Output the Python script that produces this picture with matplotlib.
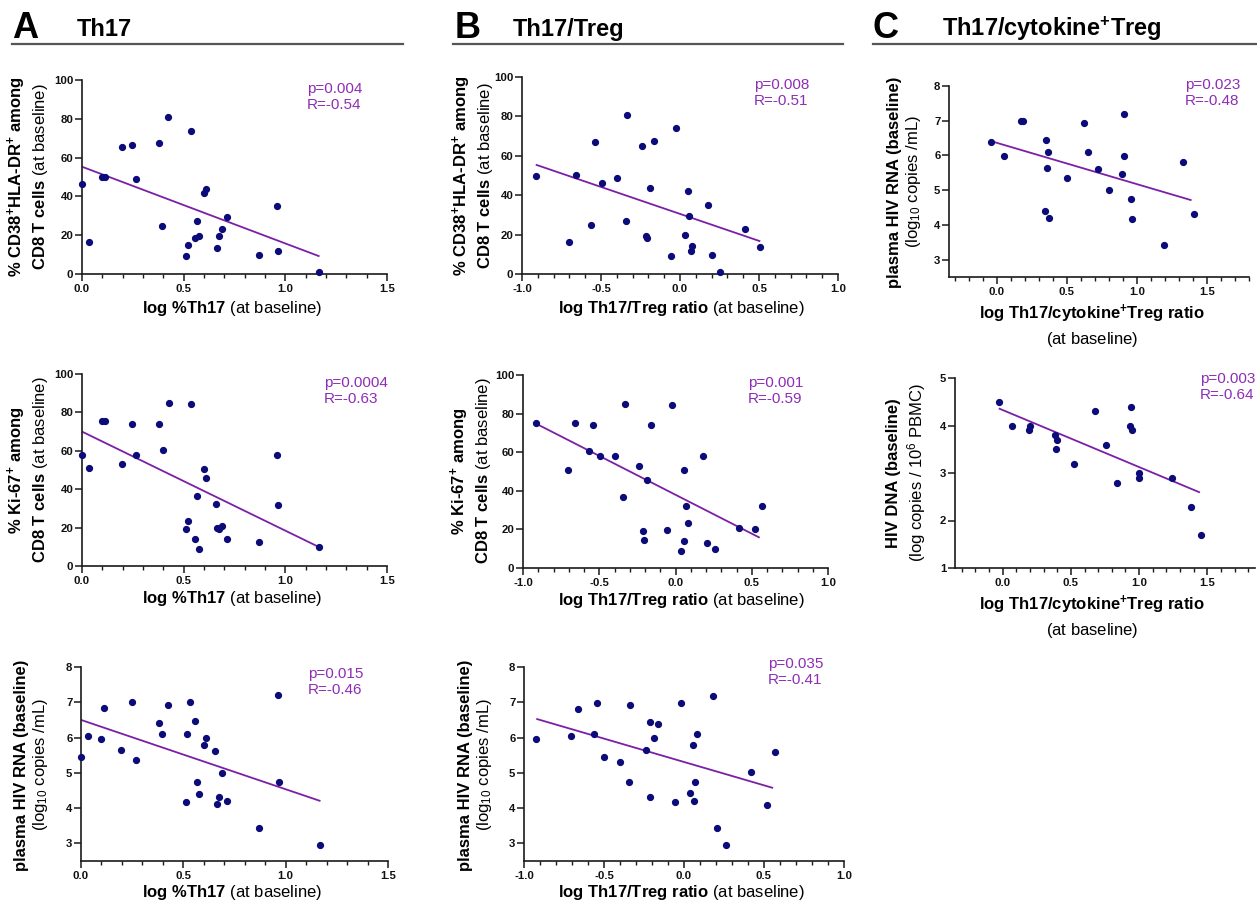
import matplotlib
matplotlib.use('Agg')
import matplotlib.pyplot as plt
from matplotlib.ticker import MultipleLocator, FormatStrFormatter
from matplotlib.lines import Line2D

plt.rcParams['font.family'] = ['Liberation Sans', 'DejaVu Sans']
plt.rcParams['mathtext.fontset'] = 'custom'
plt.rcParams['mathtext.rm'] = 'Liberation Sans'
plt.rcParams['mathtext.bf'] = 'Liberation Sans:bold'
plt.rcParams['mathtext.it'] = 'Liberation Sans:italic'
plt.rcParams['mathtext.default'] = 'rm'

# ---------------- data ----------------
a1_x = [0.0, 0.033, 0.10, 0.113, 0.197, 0.246, 0.266, 0.378, 0.394, 0.425, 0.511, 0.519, 0.536,
        0.554, 0.567, 0.577, 0.598, 0.611, 0.665, 0.674, 0.688, 0.713, 0.871, 0.961, 0.964, 1.168]
a1_y = [46.4, 16.4, 49.8, 50.2, 65.5, 66.7, 49.0, 67.6, 24.5, 80.9, 9.1, 14.7, 73.8,
        18.3, 27.4, 19.5, 41.9, 43.6, 13.6, 19.5, 23.3, 29.5, 9.7, 35.0, 12.1, 1.2]
a1_fit_x = [0.0, 1.168]
a1_fit_y = [55.3, 9.1]

a2_x = [0.0, 0.033, 0.10, 0.113, 0.197, 0.246, 0.266, 0.378, 0.396, 0.427, 0.511, 0.519, 0.536, 0.555,
        0.567, 0.577, 0.598, 0.611, 0.657, 0.665, 0.674, 0.688, 0.713, 0.871, 0.961, 0.964, 1.165]
a2_y = [58.0, 51.0, 75.3, 75.3, 53.1, 74.1, 58.0, 74.1, 60.4, 84.9, 19.1, 23.3, 84.2, 14.1,
        36.5, 8.7, 50.5, 45.7, 32.3, 20.0, 19.1, 20.7, 13.9, 12.5, 58.0, 31.9, 9.9]
a2_fit_x = [0.0, 1.165]
a2_fit_y = [70.0, 9.9]

a3_x = [0.0, 0.034, 0.10, 0.11, 0.197, 0.247, 0.267, 0.379, 0.395, 0.426, 0.512, 0.519, 0.535, 0.555,
        0.566, 0.576, 0.599, 0.611, 0.657, 0.665, 0.674, 0.690, 0.714, 0.872, 0.962, 0.967, 1.167]
a3_y = [5.46, 6.03, 5.97, 6.84, 5.65, 7.01, 5.35, 6.41, 6.10, 6.93, 4.18, 6.10, 7.01, 6.46,
        4.74, 4.41, 5.80, 6.00, 5.62, 4.12, 4.32, 4.99, 4.21, 3.43, 7.20, 4.75, 2.95]
a3_fit_x = [0.0, 1.17]
a3_fit_y = [6.50, 4.20]

b1_x = [-0.913, -0.705, -0.658, -0.563, -0.538, -0.496, -0.397, -0.340, -0.335, -0.241, -0.213, -0.207, -0.190,
        -0.162, -0.057, -0.023, 0.034, 0.049, 0.057, 0.068, 0.076, 0.177, 0.203, 0.255, 0.411, 0.508]
b1_y = [49.7, 16.4, 50.3, 24.7, 66.8, 46.4, 48.9, 27.1, 80.5, 65.1, 19.5, 18.4, 43.5,
        67.7, 9.3, 73.9, 19.6, 42.3, 29.3, 11.8, 14.4, 34.9, 9.8, 1.0, 23.0, 13.9]
b1_fit_x = [-0.913, 0.508]
b1_fit_y = [55.5, 16.6]

b2_x = [-0.917, -0.707, -0.659, -0.566, -0.539, -0.496, -0.397, -0.341, -0.334, -0.240, -0.212, -0.207, -0.188, -0.162,
        -0.055, -0.020, 0.039, 0.055, 0.059, 0.070, 0.081, 0.181, 0.207, 0.260, 0.417, 0.520, 0.570]
b2_y = [75.1, 51.0, 75.1, 60.7, 73.9, 58.1, 58.1, 36.9, 85.1, 53.1, 19.4, 14.4, 45.7, 73.9,
        19.6, 84.3, 9.0, 50.7, 14.0, 32.2, 23.2, 58.1, 12.8, 9.9, 20.8, 20.2, 32.2]
b2_fit_x = [-0.917, 0.552]
b2_fit_y = [74.9, 15.7]

b3_x = [-0.923, -0.709, -0.661, -0.565, -0.541, -0.497, -0.399, -0.341, -0.337, -0.239, -0.214, -0.210, -0.187, -0.160,
        -0.056, -0.019, 0.037, 0.054, 0.060, 0.071, 0.081, 0.181, 0.206, 0.260, 0.418, 0.518, 0.570]
b3_y = [5.95, 6.03, 6.82, 6.11, 6.99, 5.46, 5.32, 4.75, 6.92, 5.66, 4.31, 6.43, 5.98, 6.39,
        4.18, 6.99, 4.42, 5.79, 4.19, 4.74, 6.10, 7.19, 3.43, 2.95, 5.01, 4.09, 5.60]
b3_fit_x = [-0.923, 0.557]
b3_fit_y = [6.53, 4.57]

c1_x = [-0.038, 0.055, 0.174, 0.188, 0.352, 0.348, 0.367, 0.362, 0.376, 0.500, 0.624,
        0.650, 0.726, 0.802, 0.895, 0.907, 0.910, 0.957, 0.962, 1.193, 1.329, 1.407]
c1_y = [6.40, 5.97, 7.00, 7.00, 6.45, 4.41, 6.09, 5.65, 4.21, 5.34, 6.93,
        6.10, 5.61, 5.00, 5.46, 7.20, 5.99, 4.74, 4.17, 3.43, 5.81, 4.32]
c1_fit_x = [-0.038, 1.390]
c1_fit_y = [6.41, 4.71]

c2_x = [-0.029, 0.069, 0.189, 0.203, 0.382, 0.390, 0.397, 0.522, 0.679, 0.760,
        0.836, 0.931, 0.944, 0.946, 0.998, 0.998, 1.240, 1.380, 1.456]
c2_y = [4.50, 4.00, 3.90, 4.00, 3.80, 3.50, 3.70, 3.20, 4.30, 3.59,
        2.80, 4.00, 4.40, 3.90, 3.00, 2.90, 2.90, 2.29, 1.69]
c2_fit_x = [-0.029, 1.446]
c2_fit_y = [4.36, 2.59]

stats = {
    'A1': ('p=0.004', 'R=-0.54'), 'A2': ('p=0.0004', 'R=-0.63'), 'A3': ('p=0.015', 'R=-0.46'),
    'B1': ('p=0.008', 'R=-0.51'), 'B2': ('p=0.001', 'R=-0.59'), 'B3': ('p=0.035', 'R=-0.41'),
    'C1': ('p=0.023', 'R=-0.48'), 'C2': ('p=0.003', 'R=-0.64'),
}

headers = [('A', 'Th17'), ('B', 'Th17/Treg'), ('C', 'Th17/cytokine$^{\\mathbf{+}}$Treg')]

lab_cd38 = '% CD38$^{\\mathbf{+}}$HLA-DR$^{\\mathbf{+}}$ among\nCD8 T cells $\\mathrm{(at\\ baseline)}$'
lab_ki67 = '% Ki-67$^{\\mathbf{+}}$ among\nCD8 T cells $\\mathrm{(at\\ baseline)}$'
lab_rna = 'plasma HIV RNA (baseline)\n$\\mathrm{(log_{10}\\ copies\\ /mL)}$'
lab_dna = 'HIV DNA (baseline)\n$\\mathrm{(log\\ copies\\ /\\ 10^{6}\\ PBMC)}$'
xlab_th17 = 'log %Th17 $\\mathrm{(at\\ baseline)}$'
xlab_treg = 'log Th17/Treg ratio $\\mathrm{(at\\ baseline)}$'
xlab_cyt = 'log Th17/cytokine$^{\\mathbf{+}}$Treg ratio\n$\\mathrm{(at\\ baseline)}$'

# ---------------- figure ----------------
W, H = 1257, 906
fig = plt.figure(figsize=(W / 100, H / 100), dpi=100)
fig.patch.set_facecolor('white')

PT_COL = '#0B0B7A'
LINE_COL = '#7B1FA6'
TXT_COL = '#8E2DB5'
SP_COL = '#1a1a1a'


def fx(px):
    return px / W


def fy(py):
    return 1 - py / H


def panel(box, x, y, fitx, fity, xlim, ylim, xmaj, ymaj, xfmt, yfmt, st, stpos,
          ylab, ylabc, xlab, xlabc, yticks=None):
    l, r, t, b = box
    ax = fig.add_axes([fx(l), fy(b), (r - l) / W, (b - t) / H])
    ax.set_facecolor('none')
    ax.plot(fitx, fity, color=LINE_COL, lw=1.3, zorder=2, solid_capstyle='butt')
    ax.plot(x, y, 'o', color=PT_COL, ms=4.2, mec=PT_COL, zorder=3, clip_on=False)
    ax.set_xlim(*xlim)
    ax.set_ylim(*ylim)
    for s in ('top', 'right'):
        ax.spines[s].set_visible(False)
    for s in ('left', 'bottom'):
        ax.spines[s].set_linewidth(1.2)
        ax.spines[s].set_color(SP_COL)
    ax.xaxis.set_major_locator(MultipleLocator(xmaj))
    ax.xaxis.set_minor_locator(MultipleLocator(0.1))
    if yticks is not None:
        ax.set_yticks(yticks)
    else:
        ax.yaxis.set_major_locator(MultipleLocator(ymaj))
    ax.xaxis.set_major_formatter(FormatStrFormatter(xfmt))
    ax.yaxis.set_major_formatter(FormatStrFormatter(yfmt))
    ax.tick_params(axis='both', which='major', direction='out', length=5, width=1.1,
                   color=SP_COL, labelsize=8.2)
    ax.tick_params(axis='x', which='major', pad=2.0)
    ax.tick_params(axis='y', which='major', pad=1.2)
    ax.tick_params(axis='x', which='minor', direction='out', length=3, width=1.0, color=SP_COL)
    for lab in ax.get_xticklabels() + ax.get_yticklabels():
        lab.set_fontweight('bold')
        lab.set_color('#111111')
    # stats
    fig.text(fx(stpos[0]), fy(stpos[1]), st[0] + '\n' + st[1], ha='left', va='top',
             fontsize=11, color=TXT_COL, linespacing=1.15)
    # labels
    fig.text(fx(ylabc[0]), fy(ylabc[1]), ylab, rotation=90, ha='center', va='center',
             fontsize=12, fontweight='bold', multialignment='center', linespacing=1.2)
    fig.text(fx(xlabc[0]), fy(xlabc[1]), xlab, ha='center', va='center',
             fontsize=12, fontweight='bold', multialignment='center', linespacing=1.35)
    return ax


# Column A
panel((82, 387, 80, 274), a1_x, a1_y, a1_fit_x, a1_fit_y, (0, 1.5), (0, 100), 0.5, 20, '%.1f', '%d',
      stats['A1'], (307, 82), lab_cd38, (28, 177), xlab_th17, (232, 308))
panel((82, 387, 374, 566), a2_x, a2_y, a2_fit_x, a2_fit_y, (0, 1.5), (0, 100), 0.5, 20, '%.1f', '%d',
      stats['A2'], (324, 376), lab_ki67, (28, 470), xlab_th17, (232, 599))
panel((81, 388, 667, 861), a3_x, a3_y, a3_fit_x, a3_fit_y, (0, 1.5), (2.5, 8), 0.5, 1, '%.1f', '%d',
      stats['A3'], (308, 667), lab_rna, (32, 765), xlab_th17, (232, 892), yticks=[3, 4, 5, 6, 7, 8])

# Column B
panel((522, 838, 77, 274), b1_x, b1_y, b1_fit_x, b1_fit_y, (-1, 1), (0, 100), 0.5, 20, '%.1f', '%d',
      stats['B1'], (754, 78), lab_cd38, (473, 176), xlab_treg, (681, 308))
panel((523, 828, 375, 568), b2_x, b2_y, b2_fit_x, b2_fit_y, (-1, 1), (0, 100), 0.5, 20, '%.1f', '%d',
      stats['B2'], (748, 376), lab_ki67, (471, 471), xlab_treg, (681, 600))
panel((524, 844, 667, 861), b3_x, b3_y, b3_fit_x, b3_fit_y, (-1, 1), (2.5, 8), 0.5, 1, '%.1f', '%d',
      stats['B3'], (768, 657), lab_rna, (476, 765), xlab_treg, (681, 892), yticks=[3, 4, 5, 6, 7, 8])

# Column C
panel((949, 1249, 86, 277), c1_x, c1_y, c1_fit_x, c1_fit_y, (-0.34, 1.8), (2.5, 8), 0.5, 1, '%.1f', '%d',
      stats['C1'], (1185, 78), lab_rna, (905, 182), xlab_cyt, (1092, 326), yticks=[3, 4, 5, 6, 7, 8])
panel((955, 1255, 378, 568), c2_x, c2_y, c2_fit_x, c2_fit_y, (-0.35, 1.85), (1, 5), 0.5, 1, '%.1f', '%d',
      stats['C2'], (1200, 372), lab_dna, (907, 473), xlab_cyt, (1092, 617))

# Headers
head_pos = [(12, 77, 12, 403), (455, 513, 453, 843), (873, 942, 873, 1257)]
for (letter, title), (lx, tx, u0, u1) in zip(headers, head_pos):
    fig.text(fx(lx), fy(38), letter, fontsize=26, fontweight='bold', ha='left', va='baseline')
    fig.text(fx(tx), fy(36), title, fontsize=17, fontweight='bold', ha='left', va='baseline',
             family=['Liberation Sans Narrow', 'Liberation Sans', 'DejaVu Sans'])
    fig.add_artist(Line2D([fx(u0), fx(u1)], [fy(44), fy(44)], color='#555555', lw=1.6))

fig.savefig('out.png', dpi=100)
